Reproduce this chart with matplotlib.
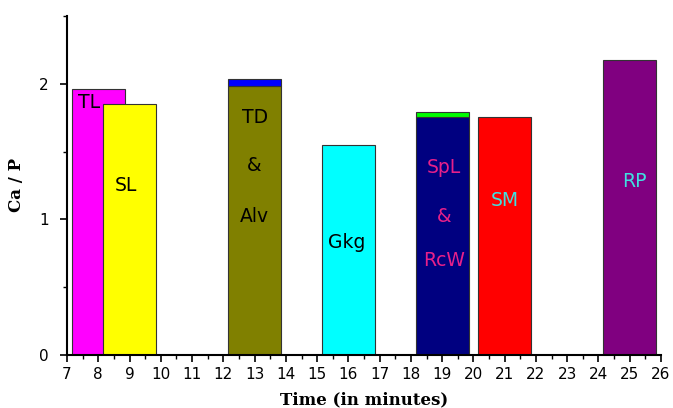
import matplotlib.pyplot as plt
from matplotlib.ticker import MultipleLocator

times = [8, 9, 13, 16, 19, 21, 25]
ca_p = [1.96, 1.85, 1.98, 1.55, 1.757, 1.755, 2.175]
caps = [0, 0, 0.055, 0, 0.035, 0, 0]
bar_colors = ['#ff00ff', '#ffff00', '#808000', '#00ffff', '#000080', '#ff0000', '#800080']
cap_colors = [None, None, '#0000ff', None, '#00ff00', None, None]

# labels inside bars: (text, x, y, colour)
bar_labels = [
    ('TL', 7.72, 1.86, 'black'),
    ('SL', 8.88, 1.25, 'black'),
    ('TD', 13.0, 1.75, 'black'),
    ('&', 13.0, 1.40, 'black'),
    ('Alv', 13.0, 1.02, 'black'),
    ('Gkg', 15.95, 0.83, 'black'),
    ('SpL', 19.05, 1.38, '#e8208a'),
    ('&', 19.05, 1.02, '#e8208a'),
    ('RcW', 19.05, 0.70, '#e8208a'),
    ('SM', 21.0, 1.14, '#40e0e0'),
    ('RP', 25.15, 1.28, '#40e0e0'),
]

fig = plt.figure(figsize=(6.73, 4.08), dpi=100)
ax = fig.add_axes([0.0996, 0.1299, 0.8826, 0.831])

ax.bar(times, ca_p, width=1.7, color=bar_colors, edgecolor='#333333', linewidth=0.8)
for t, h, c, col in zip(times, ca_p, caps, cap_colors):
    if c > 0:
        ax.bar(t, c, bottom=h, width=1.7, color=col, edgecolor='#333333', linewidth=0.8)

for txt, x, y, col in bar_labels:
    ax.text(x, y, txt, ha='center', va='center', color=col, fontsize=13.5,
            family='DejaVu Sans')

ax.set_xlim(7, 26)
ax.set_ylim(0, 2.5)
ax.xaxis.set_major_locator(MultipleLocator(1))
ax.xaxis.set_minor_locator(MultipleLocator(0.5))
ax.yaxis.set_major_locator(MultipleLocator(1))
ax.yaxis.set_minor_locator(MultipleLocator(0.5))
ax.tick_params(which='major', direction='out', length=5, width=1.2, labelsize=11)
ax.tick_params(which='minor', direction='out', length=3, width=1.0)
ax.tick_params(axis='y', pad=8)

for s in ['top', 'right']:
    ax.spines[s].set_visible(False)
for s in ['left', 'bottom']:
    ax.spines[s].set_linewidth(1.5)

ax.set_xlabel('Time (in minutes)', fontsize=12, fontweight='bold', family='DejaVu Serif', labelpad=7)
ax.set_ylabel('Ca / P', fontsize=12, fontweight='bold', family='DejaVu Serif', labelpad=10)

fig.savefig('out.png', dpi=100)
